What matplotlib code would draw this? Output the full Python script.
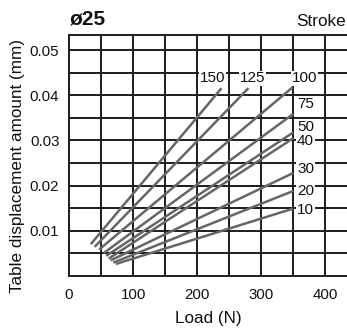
import matplotlib
matplotlib.use("Agg")
import matplotlib.pyplot as plt

plt.rcParams['font.family'] = ['Liberation Sans', 'DejaVu Sans']

# Stroke (mm) and the straight displacement lines: start / end points
strokes = [150, 125, 100, 75, 50, 40, 30, 20, 10]
load_start = [34, 40, 47, 54, 58, 62, 65, 69, 73]
disp_start = [0.0070, 0.0064, 0.0058, 0.0050, 0.0044, 0.0038, 0.0034, 0.0029, 0.0026]
load_end = [238, 280, 349, 350, 350, 350, 350, 350, 350]
disp_end = [0.0416, 0.0416, 0.0418, 0.0359, 0.0318, 0.0305, 0.0228, 0.0188, 0.0149]

# Where each stroke label sits
label_load = [224, 287, 368, 369, 369, 369, 369, 369, 369]
label_disp = [0.0438, 0.0438, 0.0438, 0.0381, 0.0329, 0.0299, 0.0237, 0.0188, 0.0146]

x_ticks = [0, 100, 200, 300, 400]
y_ticks = [0.01, 0.02, 0.03, 0.04, 0.05]

W, H = 347, 331
fig = plt.figure(figsize=(W / 100, H / 100), dpi=100)
ax = fig.add_axes([69 / W, 55.3 / H, (W - 69) / W, 240.7 / H])

grid_color = '#1c1c1c'
for gx in range(50, 450, 50):
    ax.axvline(gx, color=grid_color, lw=1.4, zorder=1)
for gy in [0.005 * k for k in range(1, 11)]:
    ax.axhline(gy, color=grid_color, lw=1.4, zorder=1)

for xs, ys, xe, ye in zip(load_start, disp_start, load_end, disp_end):
    ax.plot([xs, xe], [ys, ye], color='#666666', lw=1.8, solid_capstyle='butt', zorder=2)

for s, lx, ly in zip(strokes, label_load, label_disp):
    ax.text(lx, ly, str(s), fontsize=11, ha='center', va='center', color='#111111',
            bbox=dict(facecolor='white', edgecolor='none', pad=0.5), zorder=3)

ax.set_xlim(0, 433.8)
ax.set_ylim(0, 0.0534)
ax.set_xticks(x_ticks)
ax.set_yticks(y_ticks)
ax.set_xticklabels([str(v) for v in x_ticks])
ax.set_yticklabels([f'{v:.2f}' for v in y_ticks])
ax.tick_params(length=0, labelsize=10.8, colors='#111111', pad=7)
ax.tick_params(axis='x', pad=9)
for side in ['top', 'left', 'bottom']:
    ax.spines[side].set_color(grid_color)
    ax.spines[side].set_linewidth(1.4)
ax.spines['right'].set_visible(False)

fig.text(208 / W, 1 - 318 / H, 'Load (N)', fontsize=12.3, ha='center', va='center', color='#111111')
fig.text(18 / W, 1 - 166 / H, 'Table displacement amount (mm)', fontsize=12.3, rotation=90,
         ha='center', va='center', color='#111111')
fig.text(70 / W, 1 - 19 / H, 'ø25', fontsize=15, fontweight='bold', ha='left', va='center', color='#111111')
fig.text(346 / W, 1 - 21 / H, 'Stroke', fontsize=12.3, ha='right', va='center', color='#111111')

fig.savefig('out.png', dpi=100)
